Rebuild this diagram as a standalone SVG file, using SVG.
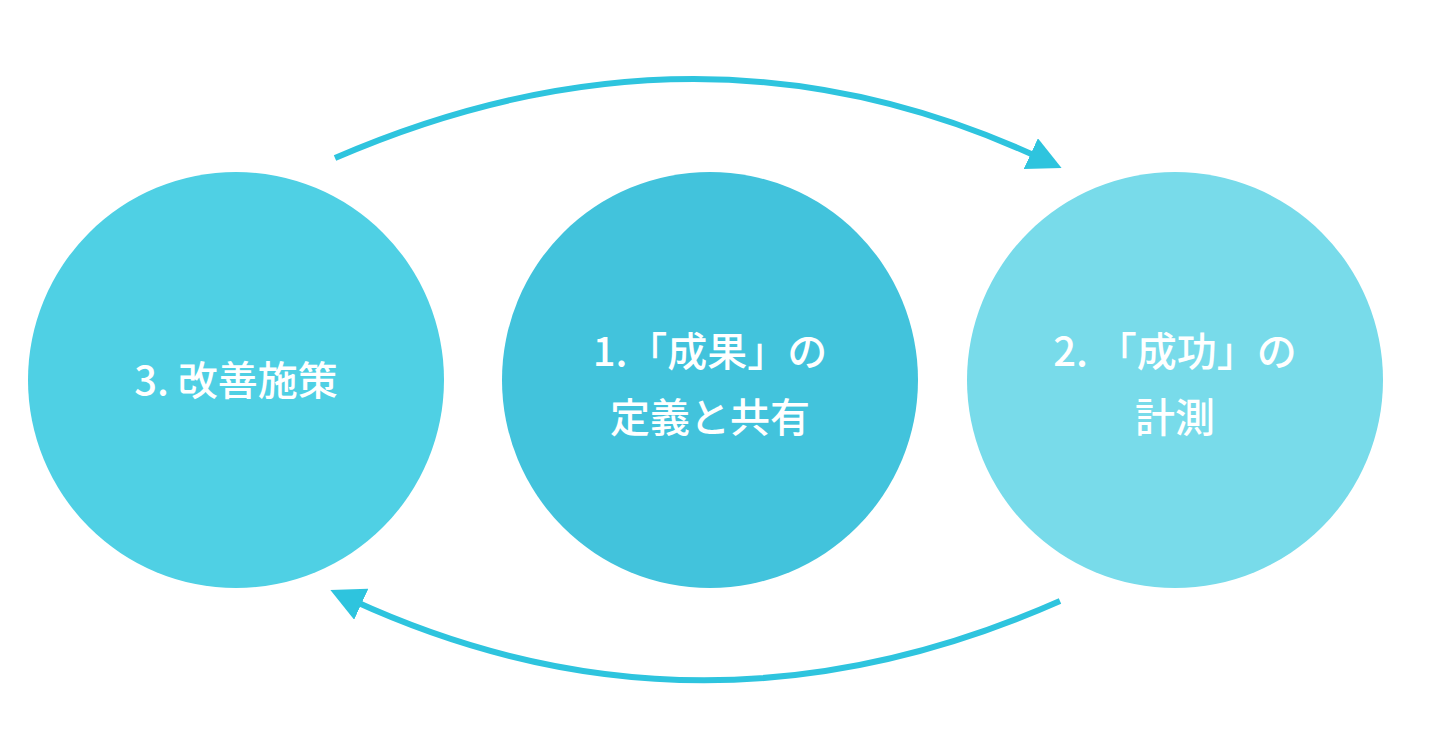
<svg xmlns="http://www.w3.org/2000/svg" width="1440" height="755" viewBox="0 0 1440 755">
<style>
.t{font-family:"Noto Sans CJK JP","Noto Sans",sans-serif;font-size:40px;fill:#fff;text-anchor:middle;font-weight:500}
.c{fill:none;stroke:#2EC4DE;stroke-width:6}
</style>
<defs><marker id="a" markerWidth="10" markerHeight="10" refX="4" refY="5" orient="auto" markerUnits="userSpaceOnUse" viewBox="0 0 10 10"><path d="M0,0 L10,5 L0,10 z" fill="#2EC4DE"/></marker>
<marker id="m" viewBox="0 0 10 10" refX="3" refY="5" markerWidth="34" markerHeight="34" orient="auto" markerUnits="userSpaceOnUse"><path d="M0,0 L10,5 L0,10 z" fill="#2EC4DE"/></marker></defs>
<rect width="1440" height="755" fill="#fff"/>
<g id="n3"><circle cx="236" cy="380" r="208" fill="#4FD0E4"/><text class="t" x="236" y="395">3. 改善施策</text></g>
<g id="n1"><circle cx="710" cy="380" r="208" fill="#42C3DC"/><text class="t" x="710" y="366">1.「成果」の</text><text class="t" x="710" y="432">定義と共有</text></g>
<g id="n2"><circle cx="1175" cy="380" r="208" fill="#78DBEA"/><text class="t" x="1175" y="366">2. 「成功」の</text><text class="t" x="1175" y="432">計測</text></g>
<g id="connectors">
<path class="c" d="M335,158 Q700,0 1040,158" marker-end="url(#m)"/>
<path class="c" d="M1060,601 Q700,760 352,600" marker-end="url(#m)"/>
</g>
</svg>
